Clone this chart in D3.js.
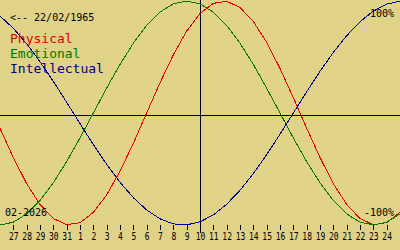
<!DOCTYPE html>
<html>
<head>
<meta charset="utf-8">
<script src="https://cdn.jsdelivr.net/npm/d3@7"></script>
<style>
  html, body { margin: 0; padding: 0; background: #e0d286; }
  svg { display: block; }
</style>
</head>
<body>
<svg id="chart" width="400" height="250"></svg>
<script>
// Day offsets relative to today (10 Feb 2026), from 26 Jan to 25 Feb
const dayOffsets = d3.range(-15, 16);
// Tick labels (27 Jan .. 24 Feb)
const tickOffsets = d3.range(-14, 15);
const tickLabels = ["27","28","29","30","31","1","2","3","4","5","6","7","8","9","10",
  "11","12","13","14","15","16","17","18","19","20","21","22","23","24"];

// Series values read per day (-1..1)
const physical = [-0.136,-0.398,-0.631,-0.817,-0.942,-0.998,-0.979,-0.888,-0.731,-0.520,-0.270,0.000,
  0.270,0.520,0.731,0.888,0.979,0.998,0.942,0.817,0.631,0.398,0.136,-0.136,-0.398,-0.631,-0.817,
  -0.942,-0.998,-0.979,-0.888];
const emotional = [-1.000,-0.975,-0.901,-0.782,-0.623,-0.434,-0.222,0.000,0.222,0.434,0.623,0.782,
  0.901,0.975,1.000,0.975,0.901,0.782,0.623,0.434,0.222,0.000,-0.222,-0.434,-0.623,-0.782,-0.901,
  -0.975,-1.000,-0.975,-0.901];
const intellectual = [0.866,0.756,0.618,0.458,0.282,0.095,-0.095,-0.282,-0.458,-0.618,-0.756,-0.866,
  -0.945,-0.990,-0.999,-0.972,-0.910,-0.815,-0.690,-0.541,-0.372,-0.189,0.000,0.189,0.372,0.541,
  0.690,0.815,0.910,0.972,0.999];

const seriesNames = ["Physical", "Emotional", "Intellectual"];
const seriesColors = ["#e00000", "#007800", "#000090"];
const seriesData = [physical, emotional, intellectual];

const birthLabel = "<-- 22/02/1965";
const monthLabel = "02-2026";

const W = 400, H = 250;
const svg = d3.select("#chart");
const mono = "'DejaVu Sans Mono', 'Liberation Mono', monospace";

const x = d3.scaleLinear().domain([-15, 15]).range([0, 400]);
const y = d3.scaleLinear().domain([-1, 1]).range([225, 1]);

// midline
svg.append("line")
  .attr("x1", 0).attr("x2", W)
  .attr("y1", 115.5).attr("y2", 115.5)
  .attr("stroke", "#000").attr("stroke-width", 1)
  .attr("shape-rendering", "crispEdges");

// today vertical line
svg.append("line")
  .attr("x1", Math.round(x(0)) + 0.5).attr("x2", Math.round(x(0)) + 0.5)
  .attr("y1", 0).attr("y2", 233)
  .attr("stroke", "#000").attr("stroke-width", 1)
  .attr("shape-rendering", "crispEdges");

// axis ticks
const axis = d3.axisBottom(x)
  .tickValues(tickOffsets)
  .tickFormat((d, i) => tickLabels[i])
  .tickSize(5)
  .tickPadding(3);
const gAxis = svg.append("g")
  .attr("transform", "translate(0,225)")
  .call(axis);
gAxis.select(".domain").remove();
gAxis.selectAll(".tick line").attr("stroke", "#000").attr("shape-rendering", "crispEdges");
gAxis.selectAll(".tick text")
  .attr("fill", "#000")
  .attr("transform", "scale(0.8,1)")
  .style("font-family", mono)
  .style("font-size", "10px");

// curves
const line = d3.line()
  .x((d, i) => x(dayOffsets[i]))
  .y(d => y(d));
seriesData.forEach((s, i) => {
  svg.append("path")
    .datum(s)
    .attr("d", line)
    .attr("fill", "none")
    .attr("stroke", seriesColors[i])
    .attr("stroke-width", 1)
    .attr("shape-rendering", "crispEdges");
});

// texts
svg.append("text").attr("x", 10).attr("y", 21)
  .style("font-family", mono).style("font-size", "10px").attr("fill", "#000")
  .text(birthLabel);

seriesNames.forEach((n, i) => {
  svg.append("text").attr("x", 10).attr("y", 43 + i * 15)
    .style("font-family", mono).style("font-size", "13px")
    .attr("fill", seriesColors[i])
    .text(n);
});

svg.append("text").attr("x", 394).attr("y", 17).attr("text-anchor", "end")
  .style("font-family", mono).style("font-size", "10px").attr("fill", "#000")
  .text("100%");
svg.append("text").attr("x", 394).attr("y", 216).attr("text-anchor", "end")
  .style("font-family", mono).style("font-size", "10px").attr("fill", "#000")
  .text("-100%");
svg.append("text").attr("x", 5).attr("y", 216)
  .style("font-family", mono).style("font-size", "10px").attr("fill", "#000")
  .text(monthLabel);
</script>
</body>
</html>
